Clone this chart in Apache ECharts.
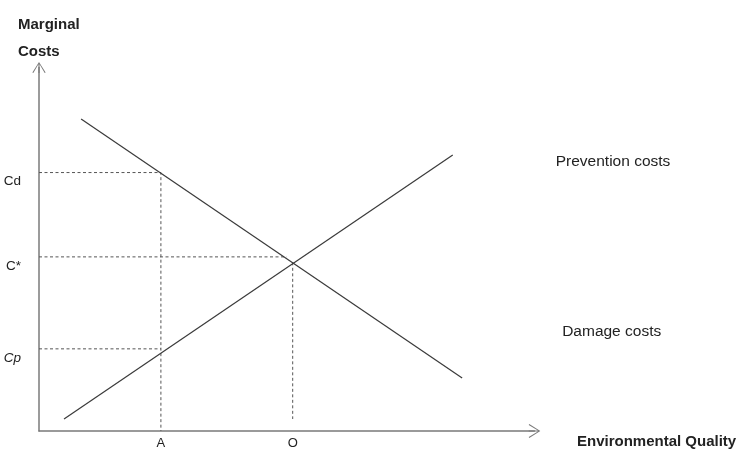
<!DOCTYPE html>
<html><head><meta charset="utf-8">
<script src="https://cdn.jsdelivr.net/npm/echarts@6/dist/echarts.min.js"></script>
<style>html,body{margin:0;padding:0;background:#fff}#c{width:743px;height:451px}</style>
</head><body><div id="c"></div>
<script>
// ---- data (abstract units 0..100 on both axes) ----
const xTickLabels = ['A', 'O'];
const xTickValues = [24.6, 51.2];
const yTickLabels = ['Cp', 'C*', 'Cd'];
const yTickValues = [22.6, 47.9, 71.1];
const preventionCosts = [[5.05, 3.3], [83.5, 75.9]];
const damageCosts = [[8.5, 85.8], [85.4, 14.6]];
const cStarHorizontalEnd = 50.0;   // where the C* guide stops
const oGuideTop = 46.4;            // intersection height at O
const oGuideBottom = 3.3;          // O guide stops above the axis
const seriesNames = ['Prevention costs', 'Damage costs'];
const axisNames = { x: 'Environmental Quality', y: 'Marginal\nCosts' };

const FONT = 'Liberation Sans, Arial, Helvetica, sans-serif';
const [cpV, cStarV, cdV] = yTickValues;
const [aV, oV] = xTickValues;
const arrowPath = 'path://M0 11 L7 0 L14 11 L13 11.6 L7.6 2.4 L7.6 11.6 L6.4 11.6 L6.4 2.4 L1 11.6 Z';

const guideStyle = { color: '#555', width: 1, type: [3, 2.5] };
const solidStyle = { color: '#3a3a3a', width: 1.2 };
const axisColor = '#7a7a7a';

function labelFor(values, labels, v) {
  let best = 0;
  values.forEach((x, i) => { if (Math.abs(x - v) < Math.abs(values[best] - v)) best = i; });
  return labels[best];
}

const chart = echarts.init(document.getElementById('c'), null, { renderer: 'canvas' });
chart.setOption({
  animation: false,
  backgroundColor: '#fff',
  textStyle: { fontFamily: FONT },
  title: {
    text: axisNames.y, left: 13, top: 6,
    textStyle: { fontFamily: FONT, fontSize: 15, fontWeight: 'bold', color: '#222', lineHeight: 27 }
  },
  grid: { left: 39, right: 208.5, top: 67.5, bottom: 20, containLabel: false },
  xAxis: {
    type: 'value', min: 0, max: 100,
    name: axisNames.x, nameLocation: 'end', nameGap: 42.5,
    nameTextStyle: { fontFamily: FONT, fontSize: 15, fontWeight: 'bold', color: '#222', verticalAlign: 'top', padding: [3, 0, 0, 0] },
    axisLine: { show: true, onZero: false, symbol: ['none', arrowPath], symbolSize: [14, 12], lineStyle: { color: axisColor, width: 1.5 } },
    axisTick: { show: false },
    splitLine: { show: false },
    axisLabel: {
      customValues: xTickValues, margin: 6, fontSize: 13, color: '#222', fontFamily: FONT,
      formatter: v => labelFor(xTickValues, xTickLabels, v)
    }
  },
  yAxis: {
    type: 'value', min: 0, max: 100,
    axisLine: { show: true, onZero: false, symbol: ['none', arrowPath], symbolSize: [14, 11], lineStyle: { color: axisColor, width: 1.5 } },
    axisTick: { show: false },
    splitLine: { show: false },
    axisLabel: {
      customValues: yTickValues, margin: 18, fontSize: 13.5, color: '#222', fontFamily: FONT,
      verticalAlign: 'top', padding: [2, 0, 0, 0],
      formatter: v => {
        const t = labelFor(yTickValues, yTickLabels, v);
        return t === 'Cp' ? '{it|' + t + '}' : t;
      },
      rich: { it: { fontStyle: 'italic', fontSize: 13.5, color: '#222', fontFamily: FONT } }
    }
  },
  series: [
    { type: 'line', name: 'cdGuide', data: [[0, cdV], [aV, cdV], [aV, 0]], symbol: 'none', lineStyle: guideStyle, silent: true },
    { type: 'line', name: 'cpGuide', data: [[0, cpV], [aV, cpV]], symbol: 'none', lineStyle: guideStyle, silent: true },
    { type: 'line', name: 'cStarGuide', data: [[0, cStarV], [cStarHorizontalEnd, cStarV]], symbol: 'none', lineStyle: guideStyle, silent: true },
    { type: 'line', name: 'oGuide', data: [[oV, oGuideTop], [oV, oGuideBottom]], symbol: 'none', lineStyle: guideStyle, silent: true },
    {
      type: 'line', name: seriesNames[0], data: preventionCosts, symbol: 'none', lineStyle: solidStyle,
      endLabel: {
        show: true, distance: 5, offset: [98, 7], align: 'left', verticalAlign: 'middle',
        fontSize: 15.5, color: '#222', fontFamily: FONT,
        formatter: () => seriesNames[0]
      }
    },
    {
      type: 'line', name: seriesNames[1], data: damageCosts, symbol: 'none', lineStyle: solidStyle,
      endLabel: {
        show: true, distance: 5, offset: [95, -46], align: 'left', verticalAlign: 'middle',
        fontSize: 15.5, color: '#222', fontFamily: FONT,
        formatter: () => seriesNames[1]
      }
    }
  ]
});
</script></body></html>
